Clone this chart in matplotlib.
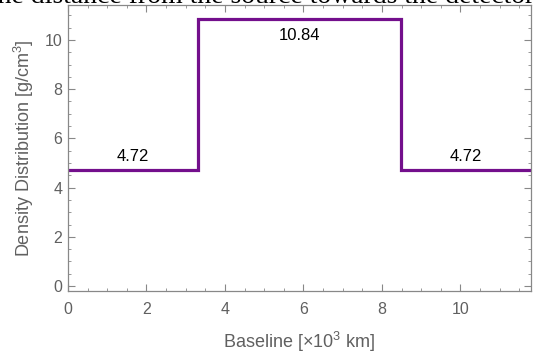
import matplotlib
matplotlib.use("Agg")
import matplotlib.pyplot as plt
from matplotlib.ticker import MultipleLocator

plt.rcParams['font.family'] = ['Liberation Sans', 'DejaVu Sans']
plt.rcParams['mathtext.fontset'] = 'custom'
plt.rcParams['mathtext.rm'] = 'Liberation Sans'
plt.rcParams['mathtext.it'] = 'Liberation Sans:italic'

# layer boundaries (x10^3 km) and densities (g/cm^3)
edges = [0.0, 3.32, 8.48, 11.8]
density = [4.72, 10.84, 4.72]
label_x = [1.66, 5.9, 10.14]
label_text = ["4.72", "10.84", "4.72"]

gray = "#606060"
purple = "#730f8c"

fig = plt.figure(figsize=(5.37, 3.53), dpi=100)
ax = fig.add_axes([68/537, 1-291/353, (531-68)/537, (291-5)/353])

xs, ys = [], []
for i, d in enumerate(density):
    xs += [edges[i], edges[i+1]]
    ys += [d, d]
ax.plot(xs, ys, color=purple, lw=2.3, solid_joinstyle='miter')

ax.text(label_x[0], density[0] + 0.55, label_text[0], ha='center', va='center', fontsize=12)
ax.text(label_x[1], density[1] - 0.65, label_text[1], ha='center', va='center', fontsize=12)
ax.text(label_x[2], density[2] + 0.55, label_text[2], ha='center', va='center', fontsize=12)

ax.set_xlim(0, 11.8)
ax.set_ylim(-0.2, 11.42)
ax.xaxis.set_major_locator(MultipleLocator(2))
ax.xaxis.set_minor_locator(MultipleLocator(0.5))
ax.yaxis.set_major_locator(MultipleLocator(2))
ax.yaxis.set_minor_locator(MultipleLocator(0.5))
ax.tick_params(which='both', direction='in', top=True, right=True, colors='#888888',
               labelcolor=gray, labelsize=11.5)
ax.tick_params(which='major', length=5, width=0.8)
ax.tick_params(which='minor', length=2.5, width=0.6)
ax.tick_params(axis='x', which='major', pad=8)
ax.tick_params(axis='y', which='major', pad=4)
for s in ax.spines.values():
    s.set_color('#888888')
    s.set_linewidth(0.9)

ax.set_xlabel(r"Baseline [$\times$10$^3$ km]", color=gray, fontsize=13, labelpad=9)
ax.set_ylabel(r"Density Distribution [g/cm$^3$]", color=gray, fontsize=13, labelpad=6)

# caption of the page above, mostly cut off at the top edge
fig.text(534/537, 1 - 9/353, "the distance from the source towards the detector",
         family='Liberation Serif', fontsize=20, ha='right', va='bottom', color='black')

fig.savefig("out.png", dpi=100)
